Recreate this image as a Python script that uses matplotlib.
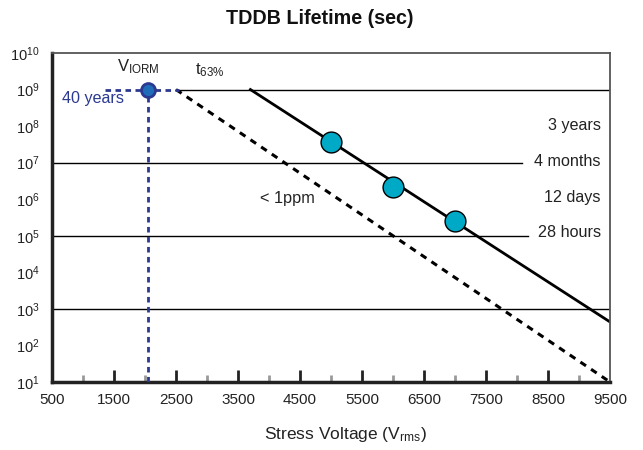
import numpy as np
import matplotlib
matplotlib.use("Agg")
import matplotlib.pyplot as plt

plt.rcParams['font.family'] = ['Liberation Sans', 'DejaVu Sans']
plt.rcParams['mathtext.fontset'] = 'custom'
plt.rcParams['mathtext.rm'] = 'Liberation Sans'
plt.rcParams['mathtext.it'] = 'Liberation Sans'

# --- data ---
test_voltage = [5000, 6000, 7000]
test_lifetime = [3.7e7, 2.1e6, 2.6e5]

t63_voltage = [3700, 9500]
t63_lifetime = [1e9, 4.4e2]

ppm_voltage = [2500, 9500]
ppm_lifetime = [1e9, 1e1]

viorm_voltage = 2050
viorm_lifetime = 1e9
viorm_hline = [1350, 2550]

grid_levels = [1e9, 1e7, 1e5, 1e3]
grid_start = [2500, 500, 500, 500]
grid_end = [9500, 8080, 8180, 9500]

duration_labels = ['3 years', '4 months', '12 days', '28 hours']
duration_levels = [1.05e8, 1.1e7, 1.15e6, 1.2e5]

x_ticks = list(range(500, 10000, 1000))
x_minor = list(range(1000, 9500, 1000))
y_exponents = list(range(1, 11))

blue = '#2B3990'
ink = '#222222'

fig = plt.figure(figsize=(6.43, 4.5), dpi=100)
ax = fig.add_axes([52 / 643, 1 - 382 / 450, 558 / 643, 329 / 450])
ax.set_yscale('log')
ax.set_xlim(500, 9500)
ax.set_ylim(1e1, 1e10)

# horizontal reference lines
for lvl, x0, x1 in zip(grid_levels, grid_start, grid_end):
    ax.plot([x0, x1], [lvl, lvl], color='black', lw=1.0, zorder=1)

# lifetime lines
ax.plot(ppm_voltage, ppm_lifetime, color='black', lw=2.2, ls=(0, (2.2, 2.0)), zorder=2)
ax.plot(t63_voltage, t63_lifetime, color='black', lw=2.0, zorder=2)
ax.plot(test_voltage, test_lifetime, 'o', ms=15, mfc='#00A9C6', mec='black', mew=1.0, zorder=4)

# VIORM marker
ax.plot(viorm_hline, [viorm_lifetime, viorm_lifetime], color=blue, lw=2.0, ls=(0, (2.0, 1.6)), zorder=3)
ax.plot([viorm_voltage, viorm_voltage], [1e1, viorm_lifetime], color=blue, lw=2.0, ls=(0, (2.0, 1.6)), zorder=3)
ax.plot([viorm_voltage], [viorm_lifetime], 'o', ms=10, mfc='#1F6DB8', mec=blue, mew=2.0, zorder=5)

# annotations
ax.text(1900, 10**9.62, r'V$_{\mathrm{IORM}}$', fontsize=12, ha='center', va='center', color=ink)
ax.text(2800, 10**9.52, r't$_{\mathrm{63\%}}$', fontsize=12, ha='left', va='center', color=ink)
ax.text(1160, 10**8.76, '40 years', fontsize=11.6, ha='center', va='center', color=blue)
ax.text(4290, 10**6.03, '< 1ppm', fontsize=11.8, ha='center', va='center', color=ink)
for lab, lvl in zip(duration_labels, duration_levels):
    ax.text(9350, lvl, lab, fontsize=11.6, ha='right', va='center', color=ink)

# axes styling
for side in ['left', 'bottom']:
    ax.spines[side].set_linewidth(2.5)
    ax.spines[side].set_color(ink)
for side in ['top', 'right']:
    ax.spines[side].set_linewidth(1.3)
    ax.spines[side].set_color('#555555')

ax.set_xticks(x_ticks)
ax.set_xticklabels([str(v) for v in x_ticks], fontsize=11, color=ink)
ax.set_xticks(x_minor, minor=True)
ax.tick_params(axis='x', which='major', direction='in', length=9, width=2, color=ink, pad=8)
ax.tick_params(axis='x', which='minor', direction='in', length=5, width=2, color='#999999')
ticks = ax.xaxis.get_major_ticks()
ticks[0].tick1line.set_visible(False)
ticks[-1].tick1line.set_visible(False)

ax.set_yticks([10.0 ** e for e in y_exponents])
ax.set_yticklabels([r'$10^{%d}$' % e for e in y_exponents], fontsize=10.5, color=ink)
ax.yaxis.set_minor_locator(matplotlib.ticker.NullLocator())
ax.tick_params(axis='y', which='major', length=0, pad=9)

fig.text(320 / 643, 1 - 18 / 450, 'TDDB Lifetime (sec)', fontsize=14.2, fontweight='bold',
         ha='center', va='center', color='#111111')
fig.text(345 / 643, 1 - 434 / 450, r'Stress Voltage (V$_{\mathrm{rms}}$)', fontsize=12.5,
         ha='center', va='center', color=ink)

fig.savefig('out.png', dpi=100)
